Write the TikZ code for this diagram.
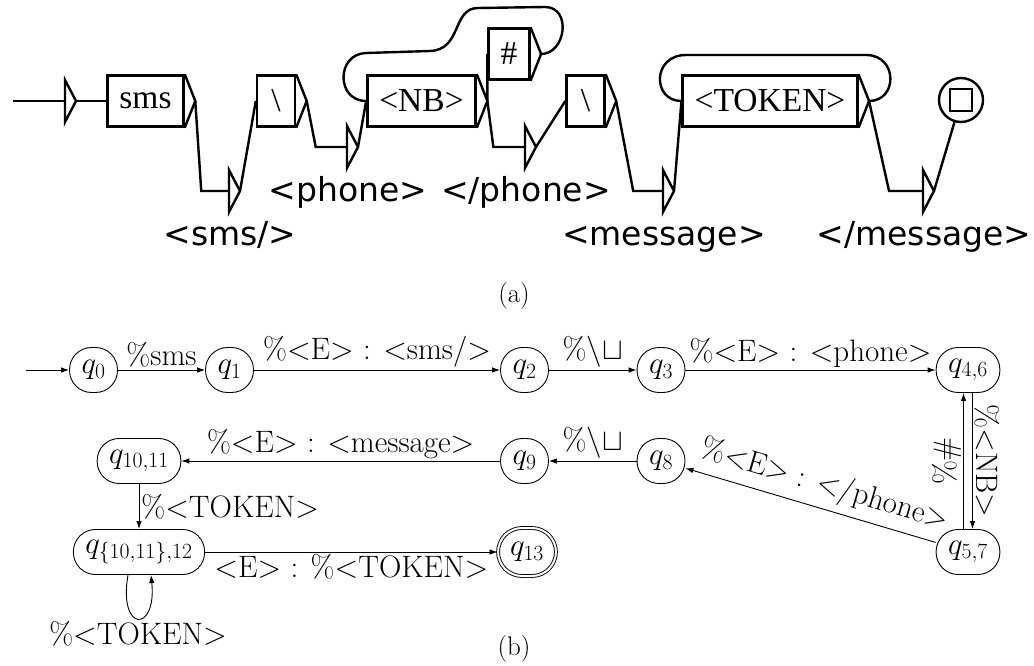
\documentclass[tikz,border=0pt]{standalone}
\usepackage{fix-cm}
\usepackage{fontspec}
\newfontfamily\grfserif{Liberation Serif}
\newfontfamily\grfsans{DejaVu Sans}
\usetikzlibrary{arrows.meta,calc}

\begin{document}
\begin{tikzpicture}[x=1pt,y=-1pt,>={Latex[length=8pt,width=5.5pt]},
  grf/.style={line width=2.4pt},
  box/.style={draw,grf,rectangle,minimum height=51pt,minimum width=38pt,inner xsep=12pt,inner ysep=0pt,
    font=\grfserif\fontsize{33.5}{40}\selectfont},
  outlabel/.style={anchor=base,font=\grfsans\fontsize{33}{40}\selectfont},
  state/.style={draw,line width=0.9pt,rectangle,rounded corners=22pt,minimum width=44pt,minimum height=45pt,
    inner xsep=12pt,font=\fontsize{31}{37}\selectfont},
  edge/.style={->,line width=0.9pt},
  lab/.style={inner sep=2pt,font=\fontsize{31}{37}\selectfont},
  caption/.style={font=\fontsize{27}{32}\selectfont}]

\useasboundingbox (0,0) rectangle (1034,666);

% (a) the graph
\node[box] (sms)   at (145.5,101) {sms};
\node[box] (bsa)   at (276,101)   {\textbackslash};
\node[box] (nb)    at (421.5,101) {<NB>};
\node[box] (hash)  at (509,54)    {\#};
\node[box] (bsb)   at (585.5,101) {\textbackslash};
\node[box] (token) at (770,101)   {<TOKEN>};

\node[draw,grf,circle,minimum size=44pt,inner sep=0pt] (fin) at (961,100) {};
\node[draw,grf,minimum size=22pt,inner sep=0pt] (fin-box) at (fin) {};

\coordinate (start) at (13,101);
\coordinate (init) at (65,101);
\coordinate (e1) at (229,191);
\coordinate (e2) at (347,147);
\coordinate (e3) at (525,147);
\coordinate (e4) at (663,191);
\coordinate (e5) at (923,191);

\foreach \b in {sms,bsa,nb,hash,bsb,token}
  \draw[grf] (\b.north east) -- ($(\b.east)+(10.5,0)$) coordinate (\b-out) -- (\b.south east);
\foreach \e in {init,e1,e2,e3,e4,e5}
  \draw[grf] (\e) -- ++(0,-21) -- ++(11,21) coordinate (\e-out) -- ++(-11,21) -- cycle;

\node[outlabel] (e1-lab) at ($(e1)+(1,54)$) {<sms/>};
\node[outlabel] (e2-lab) at ($(e2)+(1,54)$) {<phone>};
\node[outlabel] (e3-lab) at ($(e3)+(1,54)$) {</phone>};
\node[outlabel] (e4-lab) at ($(e4)+(1,54)$) {<message>};
\node[outlabel] (e5-lab) at ($(e5)+(1,54)$) {</message>};

\draw[grf] (start) -- (init);
\draw[grf] (init-out) -- (sms);
\draw[grf] (sms-out) -- ($(sms-out |- e1)+(6,0)$) -- (e1);
\draw[grf] (e1-out) -- (bsa.west);
\draw[grf] (bsa-out) -- ($(bsa-out |- e2)+(9,0)$) -- (e2);
\draw[grf] (e2-out) -- (nb.west);
\draw[grf] (nb-out) -- (hash.west);
\draw[grf] (nb-out) -- ($(nb-out |- e3)+(6,0)$) -- (e3);
\draw[grf] (e3-out) -- (bsb.west);
\draw[grf] (bsb-out) -- ($(bsb-out |- e4)+(17,0)$) -- (e4);
\draw[grf] (e4-out) -- (token.west);
\draw[grf] (token-out) -- ($(token-out |- e5)+(20,0)$) -- (e5);
\draw[grf] (e5-out) -- (fin);

% loops
\draw[grf] (hash-out) .. controls (566,54) and (572,7) .. (545,7) -- (478,8)
  .. controls (452,8) and (462,50) .. (430,51) -- (366,53)
  .. controls (336,54) and (336,101) .. (nb.west);
\draw[grf] (token-out) .. controls (898,101) and (898,55) .. (866,55) -- (686,55)
  .. controls (652,55) and (652,101) .. (token.west);

\node[caption] (cap-a) at (514,296) {(a)};

% (b) the transducer
\node[state] (q0)      at (93.5,370)  {$q_0$};
\node[state] (q1)      at (229.5,370) {$q_1$};
\node[state] (q2)      at (524.5,370) {$q_2$};
\node[state] (q3)      at (661,370)   {$q_3$};
\node[state] (q46)     at (968,370)   {$q_{4,6}$};
\node[state] (q57)     at (968,552)   {$q_{5,7}$};
\node[state] (q8)      at (661,461)   {$q_8$};
\node[state] (q9)      at (524.5,461) {$q_9$};
\node[state] (q1011)   at (139,461)   {$q_{10,11}$};
\node[state] (q101112) at (139,552)   {$q_{\{10,11\},12}$};
\node[state,double,double distance=2pt,minimum width=48pt,minimum height=48pt,rounded corners=24pt]
  (q13) at (527,552) {$q_{13}$};

\coordinate (entry) at (26,370);
\draw[edge] (entry) -- (q0);
\draw[edge] (q0) -- node[above,lab] {\%sms} (q1);
\draw[edge] (q1) -- node[above,lab] {\%$<$E$>$ : $<$sms/$>$} (q2);
\draw[edge] (q2) -- node[above,lab] {\%$\backslash\sqcup$} (q3);
\draw[edge] (q3) -- node[above,lab] {\%$<$E$>$ : $<$phone$>$} (q46);
\draw[edge] ([xshift=4.5pt]q46.south) -- node[anchor=south,rotate=-90,lab] {\%$<$NB$>$} ([xshift=4.5pt]q57.north);
\draw[edge] ([xshift=-4.5pt]q57.north) -- node[anchor=south,rotate=90,lab] {\%\#} ([xshift=-4.5pt]q46.south);
\draw[edge] (q57) -- node[pos=0.47,sloped,above=5pt,lab] {\%$<$E$>$ : $<$/phone$>$} (q8);
\draw[edge] (q8) -- node[above,lab] {\%$\backslash\sqcup$} (q9);
\draw[edge] (q9) -- node[above,lab] {\%$<$E$>$ : $<$message$>$} (q1011);
\draw[edge] (q1011) -- node[right,lab] {\%$<$TOKEN$>$} (q101112);
\draw[edge] (q101112) -- node[below,lab] {$<$E$>$ : \%$<$TOKEN$>$} (q13);
\draw[edge] ([xshift=-11pt]q101112.south) .. controls +(-10,58) and +(6,58) ..
  ([xshift=12pt]q101112.south) node[pos=0.5,below,lab] {\%$<$TOKEN$>$};

\node[caption] (cap-b) at (514,649) {(b)};

\end{tikzpicture}
\end{document}
